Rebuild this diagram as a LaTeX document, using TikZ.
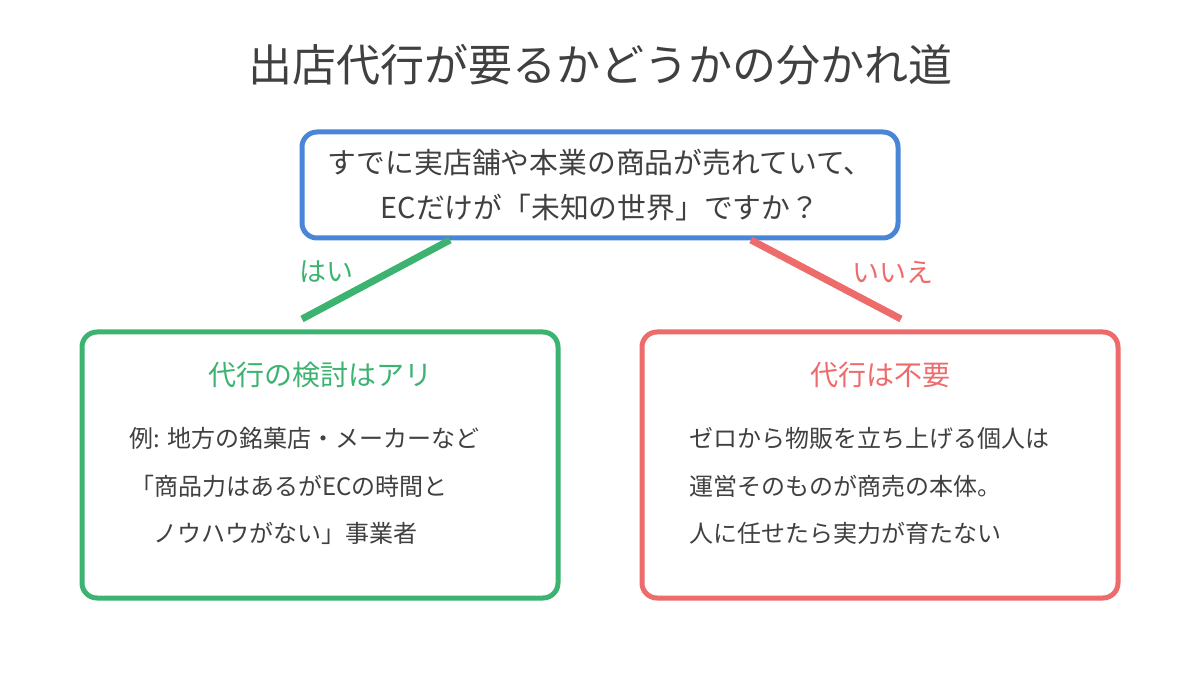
\documentclass[tikz,border=0pt]{standalone}
\usepackage{fontspec}
\setmainfont{Noto Sans CJK JP}
\definecolor{qblue}{HTML}{4A86D8}
\definecolor{ygreen}{HTML}{3CB371}
\definecolor{nred}{HTML}{EE6B6B}
\definecolor{txt}{HTML}{404040}
\tikzset{
  qbox/.style={draw=qblue, line width=5pt, rounded corners=15pt, inner sep=0pt, align=center, text=txt},
  gbox/.style={draw=ygreen, line width=5pt, rounded corners=15pt, inner sep=0pt},
  rbox/.style={draw=nred, line width=5pt, rounded corners=15pt, inner sep=0pt},
  body/.style={anchor=west, inner sep=0pt, text=txt, font=\fontsize{24pt}{28pt}\selectfont},
  head/.style={inner sep=0pt, font=\fontsize{28pt}{32pt}\selectfont},
  lbl/.style={inner sep=0pt, font=\fontsize{27pt}{30pt}\selectfont},
  conn/.style={line width=7pt}
}
\begin{document}
\begin{tikzpicture}[x=1pt,y=-1pt]
\useasboundingbox (0,0) rectangle (1200,700);
\fill[white] (0,0) rectangle (1200,700);
\node[inner sep=0pt, text=txt, font=\fontsize{44pt}{48pt}\selectfont] (title) at (600,65) {出店代行が要るかどうかの分かれ道};
\node[qbox, minimum width=596pt, minimum height=106pt, font=\fontsize{28.8pt}{45pt}\selectfont] (q) at (600,185) {すでに実店舗や本業の商品が売れていて、\\ECだけが「未知の世界」ですか？};
\node[gbox, minimum width=476pt, minimum height=266pt] (yes) at (320,465) {};
\node[rbox, minimum width=476pt, minimum height=266pt] (no) at (880,465) {};
\node[head, text=ygreen] (yh) at (320,375) {代行の検討はアリ};
\node[head, text=nred] (nh) at (880,375) {代行は不要};
\node[body] (y1) at (129,438) {例: 地方の銘菓店・メーカーなど};
\node[body] (y2) at (130,486) {「商品力はあるがECの時間と};
\node[body] (y3) at (153,533) {ノウハウがない」事業者};
\node[body] (n1) at (689,438) {ゼロから物販を立ち上げる個人は};
\node[body] (n2) at (689,486) {運営そのものが商売の本体。};
\node[body] (n3) at (689,533) {人に任せたら実力が育たない};
\coordinate (ga) at (450,240);
\coordinate (gb) at (302,319);
\coordinate (ra) at (751,240);
\coordinate (rb) at (901,319);
\draw[conn, ygreen] (ga) -- (gb);
\draw[conn, nred] (ra) -- (rb);
\node[lbl, text=ygreen] (yl) at (326,272) {はい};
\node[lbl, text=nred] (nl) at (893,272) {いいえ};
\end{tikzpicture}
\end{document}
